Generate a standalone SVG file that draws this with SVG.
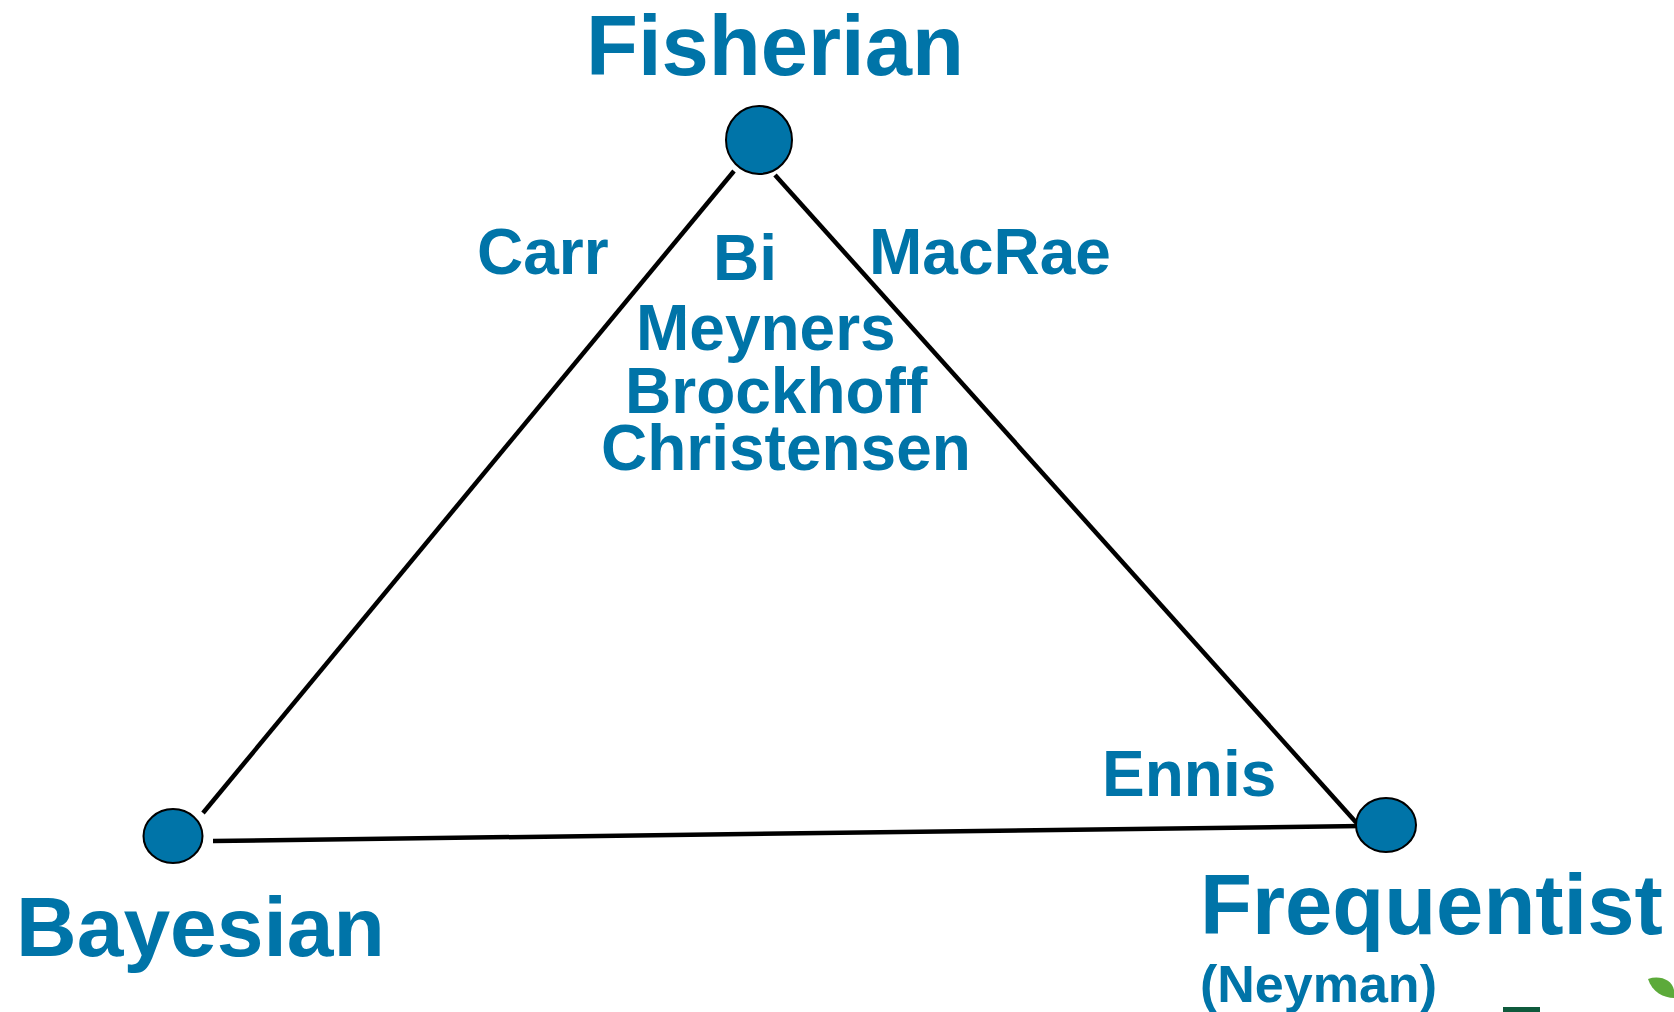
<svg xmlns="http://www.w3.org/2000/svg" width="1674" height="1012" viewBox="0 0 1674 1012">
  <style>
    .t { font-family: "Liberation Sans", Arial, sans-serif; font-weight: bold; fill: #0074A8; }
    .big { font-size: 85px; }
    .mid { font-size: 64px; }
    .sm { font-size: 52px; }
    .node { fill: #0074A8; stroke: #000; stroke-width: 2; }
    .edge { stroke: #000; stroke-width: 4.5; fill: none; }
  </style>
  <rect width="1674" height="1012" fill="#fff"/>
  <g id="connectors">
    <line class="edge" x1="734" y1="171" x2="203" y2="813"/>
    <line class="edge" x1="775" y1="175" x2="1362" y2="829"/>
    <line class="edge" x1="213" y1="841" x2="1362" y2="826"/>
  </g>
  <g id="fisherian">
    <ellipse class="node" cx="759" cy="140" rx="33" ry="34"/>
    <text class="t big" x="586" y="75" font-size="84">Fisherian</text>
  </g>
  <g id="bayesian">
    <ellipse class="node" cx="173" cy="836" rx="29.5" ry="27"/>
    <text class="t" x="16" y="956" font-size="84">Bayesian</text>
  </g>
  <g id="frequentist">
    <ellipse class="node" cx="1386" cy="825" rx="30" ry="27"/>
    <text class="t big" x="1200" y="934">Frequentist</text>
    <text class="t sm" x="1200" y="1002">(Neyman)</text>
  </g>
  <g id="labels">
    <text class="t mid" x="477" y="274">Carr</text>
    <text class="t mid" x="713" y="280">Bi</text>
    <text class="t mid" x="869" y="274">MacRae</text>
    <text class="t mid" x="636" y="350">Meyners</text>
    <text class="t mid" x="625" y="413">Brockhoff</text>
    <text class="t mid" x="601" y="470">Christensen</text>
    <text class="t mid" x="1102" y="796">Ennis</text>
  </g>
  <g id="logo-fragment">
    <rect x="1503" y="1007" width="37" height="5" fill="#0F5A3C"/>
    <path d="M1648,979 C1660,975 1672,980 1674,990 L1674,998 C1664,998 1652,992 1648,979 Z" fill="#5CAA3A"/>
  </g>
</svg>
